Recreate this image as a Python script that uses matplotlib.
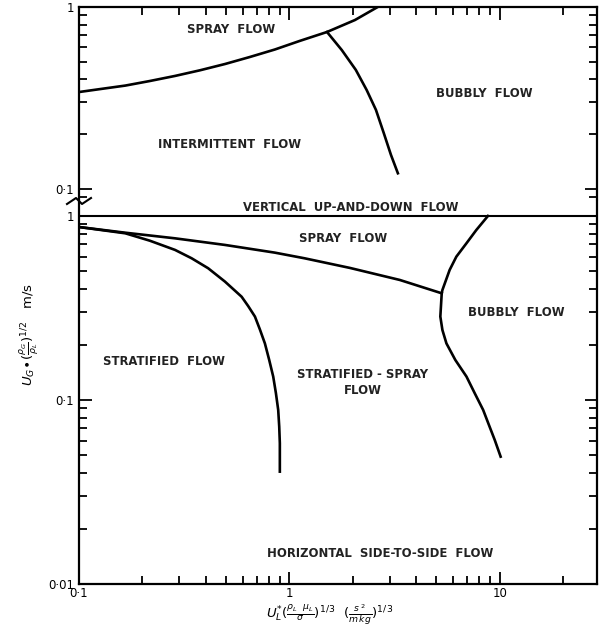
import numpy as np
from matplotlib import pyplot as plt
from matplotlib.ticker import LogLocator, FixedLocator, FixedFormatter, NullFormatter

# top panel: vertical up-and-down flow
top_spray_x = [0.1, 0.126, 0.166, 0.217, 0.286, 0.376, 0.494, 0.648, 0.853, 1.12, 1.51, 2.05, 2.63]
top_spray_y = [0.341, 0.354, 0.370, 0.392, 0.418, 0.449, 0.486, 0.531, 0.584, 0.651, 0.729, 0.848, 1.0]
top_bubbly_x = [1.51, 1.775, 2.07, 2.33, 2.58, 2.81, 3.04, 3.28]
top_bubbly_y = [0.729, 0.580, 0.451, 0.350, 0.272, 0.203, 0.154, 0.122]

# bottom panel: horizontal side-to-side flow
bot_spray_x = [0.1, 0.166, 0.286, 0.494, 0.853, 1.18, 1.94, 3.35, 5.30]
bot_spray_y = [0.871, 0.811, 0.756, 0.696, 0.632, 0.589, 0.522, 0.449, 0.380]
bot_strat_x = [0.1, 0.166, 0.217, 0.286, 0.343, 0.411, 0.494, 0.593, 0.637, 0.686, 0.724,
               0.765, 0.802, 0.838, 0.863, 0.885, 0.895, 0.901, 0.901]
bot_strat_y = [0.871, 0.805, 0.734, 0.654, 0.589, 0.520, 0.440, 0.364, 0.324, 0.284, 0.242,
               0.203, 0.165, 0.134, 0.109, 0.0883, 0.0716, 0.0582, 0.0408]
bot_bubbly_x = [8.79, 7.74, 6.95, 6.22, 5.78, 5.34, 5.30, 5.22, 5.34, 5.58, 6.15, 6.95,
                7.60, 8.34, 8.95, 9.47, 10.1]
bot_bubbly_y = [1.0, 0.839, 0.711, 0.601, 0.509, 0.396, 0.380, 0.284, 0.240, 0.203, 0.165,
                0.134, 0.109, 0.0883, 0.0716, 0.0606, 0.0492]

W, H = 599., 635.
xlim = [0.1, 29.]

def fx(px):
    return px/W
def fy(py):
    return 1.-py/H

def fmt_ticks(ax, sides):
    ax.tick_params(which='both', direction='in', width=1.3, color='k',
                   labelsize=8.5, **sides)
    ax.tick_params(which='major', length=9)
    ax.tick_params(which='minor', length=5.5)
    for s in ax.spines.values():
        s.set_linewidth(1.6)

fig = plt.figure(figsize=(W/100., H/100.), dpi=100)

# top axes
ax1 = fig.add_axes([fx(79), fy(199), fx(597)-fx(79), fy(7)-fy(199)])
ax1.set_xscale('log')
ax1.set_yscale('log')
ax1.set_xlim(xlim)
ax1.set_ylim([0.0881, 1.])
ax1.plot(top_spray_x, top_spray_y, 'k-', lw=1.9, solid_joinstyle='round')
ax1.plot(top_bubbly_x, top_bubbly_y, 'k-', lw=1.9, solid_joinstyle='round')
ax1.spines['bottom'].set_visible(False)
ax1.xaxis.set_major_locator(FixedLocator([1., 10.]))
ax1.xaxis.set_minor_locator(LogLocator(base=10, subs=np.arange(2, 10)))
ax1.xaxis.set_major_formatter(NullFormatter())
ax1.xaxis.set_minor_formatter(NullFormatter())
ax1.yaxis.set_major_locator(FixedLocator([0.1, 1.]))
ax1.yaxis.set_major_formatter(FixedFormatter(['0·1', '1']))
ax1.yaxis.set_minor_locator(LogLocator(base=10, subs=np.arange(2, 10)))
ax1.yaxis.set_minor_formatter(NullFormatter())
fmt_ticks(ax1, dict(top=True, bottom=False, left=True, right=True,
                    labelbottom=False, labeltop=False))

# bottom axes
ax2 = fig.add_axes([fx(79), fy(584), fx(597)-fx(79), fy(201)-fy(584)])
ax2.set_xscale('log')
ax2.set_yscale('log')
ax2.set_xlim(xlim)
ax2.set_ylim([0.01, 1.206])
ax2.axhline(1., color='k', lw=1.5)
ax2.plot(bot_spray_x, bot_spray_y, 'k-', lw=1.9, solid_joinstyle='round')
ax2.plot(bot_strat_x, bot_strat_y, 'k-', lw=1.9, solid_joinstyle='round')
ax2.plot(bot_bubbly_x, bot_bubbly_y, 'k-', lw=1.9, solid_joinstyle='round')
ax2.spines['top'].set_visible(False)
ax2.xaxis.set_major_locator(FixedLocator([0.1, 1., 10.]))
ax2.xaxis.set_major_formatter(FixedFormatter(['0·1', '1', '10']))
ax2.xaxis.set_minor_locator(LogLocator(base=10, subs=np.arange(2, 10)))
ax2.xaxis.set_minor_formatter(NullFormatter())
ax2.yaxis.set_major_locator(FixedLocator([0.01, 0.1, 1.]))
ax2.yaxis.set_major_formatter(FixedFormatter(['0·01', '0·1', '1']))
ax2.yaxis.set_minor_locator(LogLocator(base=10, subs=np.arange(2, 10)))
ax2.yaxis.set_minor_formatter(NullFormatter())
fmt_ticks(ax2, dict(top=False, bottom=True, left=True, right=True))
ax2.tick_params(axis='x', pad=2)

# axis break on the left
fig.add_artist(plt.Line2D([fx(67), fx(76), fx(82), fx(91)],
                          [fy(204), fy(198), fy(204), fy(198)],
                          color='k', lw=1.5))

# region labels
tk = dict(fontsize=8.4, fontweight='bold', ha='center', va='center',
          color='#222222')
ax1.text(0.527, 0.757, 'SPRAY  FLOW', **tk)
ax1.text(8.49, 0.333, 'BUBBLY  FLOW', **tk)
ax1.text(0.519, 0.1745, 'INTERMITTENT  FLOW', **tk)
ax2.text(1.96, 1.105, 'VERTICAL  UP-AND-DOWN  FLOW', **tk)
ax2.text(1.80, 0.759, 'SPRAY  FLOW', **tk)
ax2.text(12.0, 0.297, 'BUBBLY  FLOW', **tk)
ax2.text(0.254, 0.161, 'STRATIFIED  FLOW', **tk)
ax2.text(2.23, 0.125, 'STRATIFIED - SPRAY\nFLOW', linespacing=1.3, **tk)
ax2.text(2.69, 0.0147, 'HORIZONTAL  SIDE-TO-SIDE  FLOW', **tk)

# axis titles
fig.text(fx(30), fy(335),
         r'$U_G\!\bullet\!(\frac{\rho_G}{\rho_L})^{1/2}$   m/s',
         rotation=90, ha='center', va='center', fontsize=9.5)
fig.text(fx(330), fy(615),
         r'$U_L^{*}(\frac{\rho_L\ \ \mu_L}{\sigma})^{1/3}\ \ (\frac{s^{\ 2}}{m\,kg})^{1/3}$',
         ha='center', va='center', fontsize=9.5)

fig.savefig('out.png', dpi=100)
